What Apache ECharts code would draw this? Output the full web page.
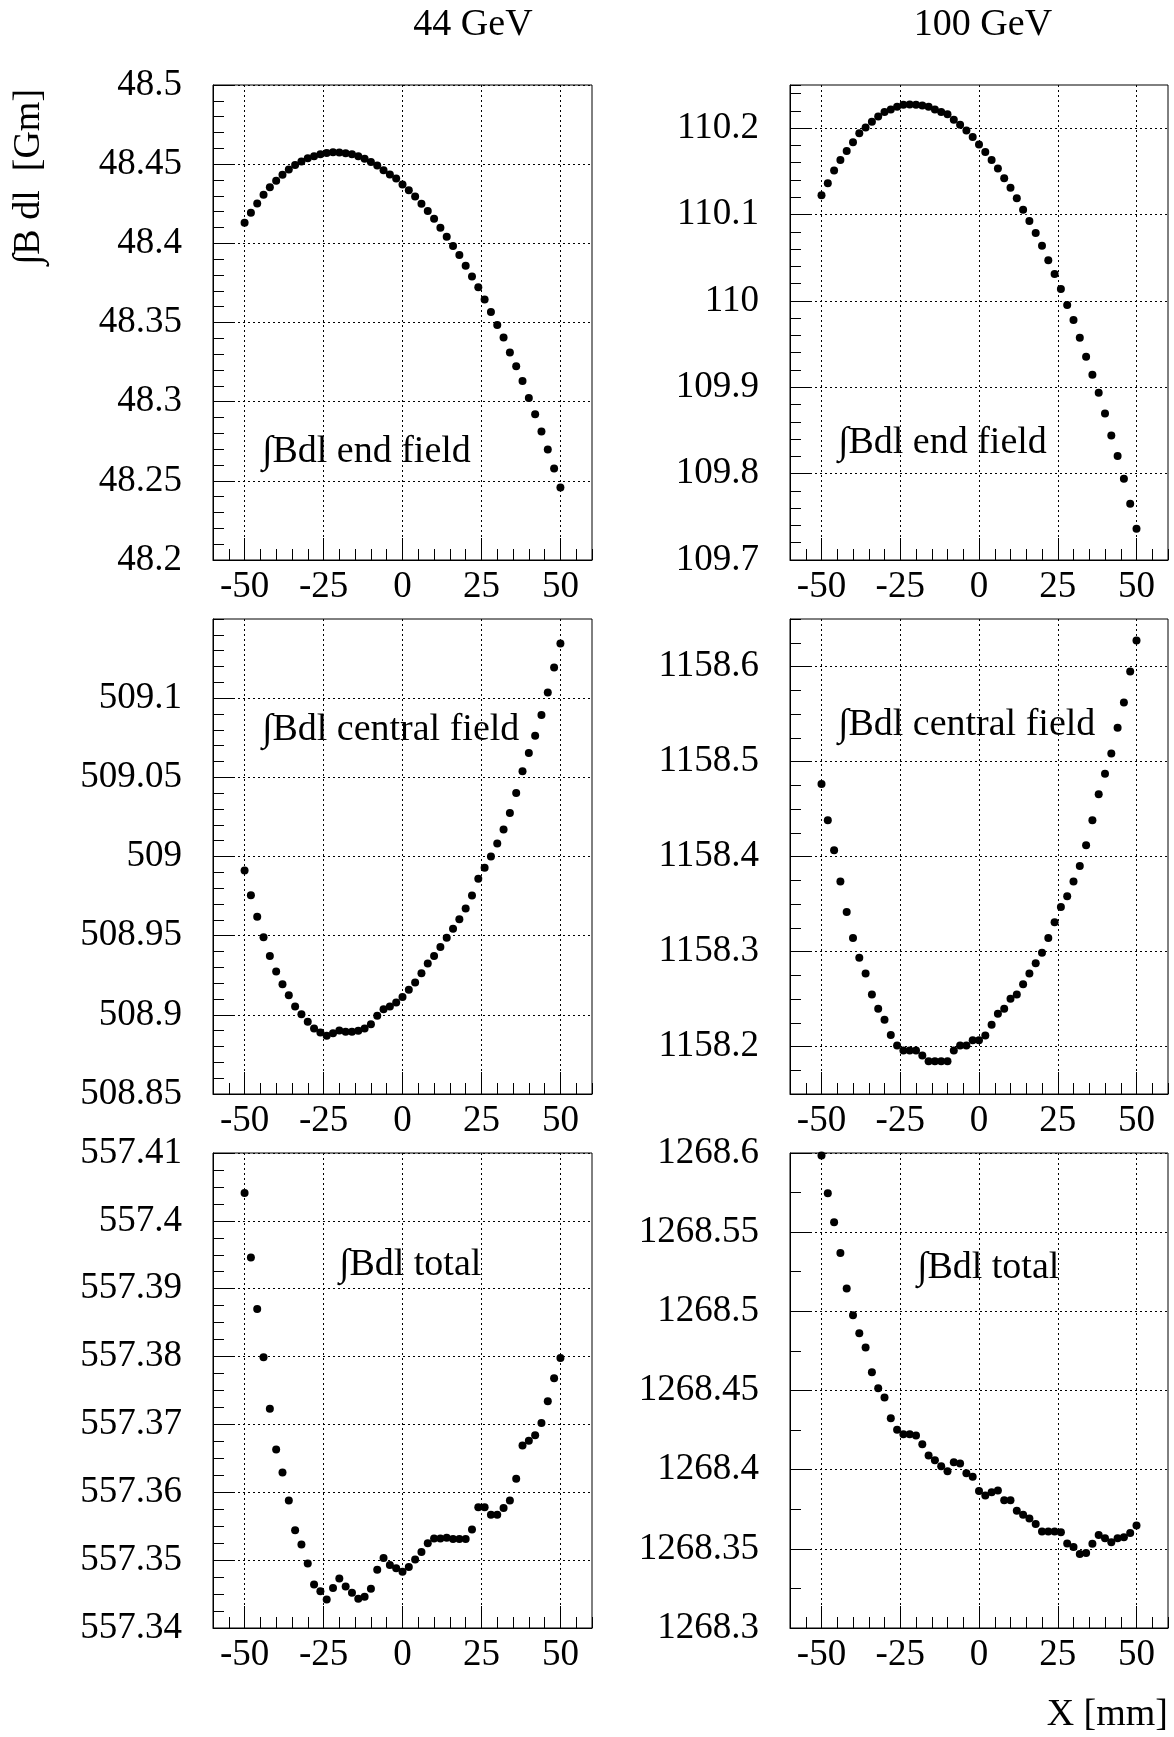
<!DOCTYPE html>
<html>
<head>
<meta charset="utf-8">
<script src="https://cdn.jsdelivr.net/npm/echarts@6/dist/echarts.min.js"></script>
<style>
html, body {margin:0; padding:0; background:#fff;}
#main {width:1174px; height:1737px;}
</style>
</head>
<body>
<div id="main"></div>
<script>
// x positions of the scan (mm)
const xPos = [-50,-48,-46,-44,-42,-40,-38,-36,-34,-32,-30,-28,-26,-24,-22,-20,-18,-16,-14,-12,-10,-8,-6,-4,-2,
    0,2,4,6,8,10,12,14,16,18,20,22,24,26,28,30,32,34,36,38,40,42,44,46,48,50];

const end44 = [48.4130,48.4193,48.4252,48.4307,48.4355,48.4395,48.4433,48.4466,48.4494,48.4517,
    48.4538,48.4550,48.4563,48.4571,48.4576,48.4574,48.4569,48.4563,48.4550,48.4534,
    48.4513,48.4492,48.4462,48.4435,48.4410,48.4372,48.4336,48.4296,48.4250,48.4204,
    48.4155,48.4099,48.4042,48.3983,48.3926,48.3859,48.3790,48.3723,48.3645,48.3567,
    48.3485,48.3405,48.3311,48.3223,48.3130,48.3023,48.2920,48.2811,48.2698,48.2578,48.2458];

const end100 = [110.1222,110.1362,110.1509,110.1632,110.1737,110.1838,110.1942,110.2008,110.2074,110.2135,
    110.2186,110.2217,110.2248,110.2271,110.2275,110.2271,110.2263,110.2248,110.2217,110.2186,
    110.2162,110.2097,110.2039,110.1973,110.1899,110.1810,110.1725,110.1632,110.1532,110.1420,
    110.1311,110.1188,110.1056,110.0925,110.0785,110.0638,110.0472,110.0313,110.0139,109.9954,
    109.9780,109.9574,109.9354,109.9145,109.8936,109.8696,109.8441,109.8205,109.7942,109.7652,109.7362];

const central44 = [508.9912,508.9756,508.9620,508.9490,508.9372,508.9273,508.9193,508.9124,508.9053,508.9004,
    508.8956,508.8914,508.8889,508.8868,508.8884,508.8901,508.8893,508.8893,508.8899,508.8914,
    508.8941,508.8994,508.9036,508.9053,508.9078,508.9113,508.9158,508.9204,508.9263,508.9324,
    508.9372,508.9429,508.9487,508.9544,508.9603,508.9672,508.9754,508.9859,508.9929,509.0000,
    509.0082,509.0170,509.0275,509.0401,509.0538,509.0653,509.0763,509.0893,509.1036,509.1193,509.1345];

const central100 = [1158.4763,1158.4381,1158.4065,1158.3736,1158.3417,1158.3143,1158.2933,1158.2768,1158.2547,1158.2397,
    1158.2281,1158.2120,1158.2011,1158.1959,1158.1959,1158.1959,1158.1906,1158.1846,1158.1846,1158.1846,
    1158.1846,1158.1959,1158.2011,1158.2011,1158.2067,1158.2067,1158.2116,1158.2228,1158.2344,1158.2397,
    1158.2502,1158.2547,1158.2656,1158.2768,1158.2877,1158.2986,1158.3143,1158.3308,1158.3469,1158.3581,
    1158.3736,1158.3900,1158.4118,1158.4381,1158.4654,1158.4871,1158.5085,1158.5355,1158.5621,1158.5947,1158.6273];

const total44 = [557.4041,557.3946,557.3870,557.3799,557.3723,557.3663,557.3629,557.3588,557.3544,557.3523,
    557.3495,557.3464,557.3454,557.3442,557.3459,557.3473,557.3461,557.3452,557.3443,557.3446,
    557.3458,557.3486,557.3503,557.3493,557.3488,557.3483,557.3490,557.3501,557.3512,557.3525,
    557.3532,557.3532,557.3533,557.3531,557.3531,557.3531,557.3545,557.3578,557.3578,557.3567,
    557.3567,557.3577,557.3588,557.3620,557.3669,557.3676,557.3684,557.3702,557.3734,557.3768,557.3798];

const total100 = [1268.5984,1268.5746,1268.5563,1268.5369,1268.5144,1268.4976,1268.4862,1268.4772,1268.4616,1268.4515,
    1268.4456,1268.4325,1268.4252,1268.4224,1268.4224,1268.4216,1268.4161,1268.4089,1268.4060,1268.4022,
    1268.3990,1268.4047,1268.4039,1268.3978,1268.3955,1268.3866,1268.3837,1268.3858,1268.3868,1268.3807,
    1268.3807,1268.3740,1268.3716,1268.3691,1268.3657,1268.3610,1268.3610,1268.3610,1268.3605,1268.3533,
    1268.3512,1268.3468,1268.3473,1268.3532,1268.3588,1268.3567,1268.3542,1268.3567,1268.3573,1268.3600,1268.3647];

// tick labels
const xTicks = [-50, -25, 0, 25, 50];
const yTicksEnd44 = [48.2, 48.25, 48.3, 48.35, 48.4, 48.45, 48.5];
const yTicksEnd100 = [109.7, 109.8, 109.9, 110, 110.1, 110.2];
const yTicksCentral44 = [508.85, 508.9, 508.95, 509, 509.05, 509.1];
const yTicksCentral100 = [1158.2, 1158.3, 1158.4, 1158.5, 1158.6];
const yTicksTotal44 = [557.34, 557.35, 557.36, 557.37, 557.38, 557.39, 557.4, 557.41];
const yTicksTotal100 = [1268.3, 1268.35, 1268.4, 1268.45, 1268.5, 1268.55, 1268.6];

const FONT = 'Liberation Serif';
const colLeft = [213, 790];
const colWidth = [379, 378];
const rowTop = [85, 619, 1153];
const rowHeight = 475;

// y ranges and minor tick step for each panel
const panels = [
    {ys: end44, min: 48.2, max: 48.5, minor: 0.01, ticks: yTicksEnd44, col: 0, row: 0},
    {ys: end100, min: 109.7, max: 110.25, minor: 0.02, ticks: yTicksEnd100, col: 1, row: 0},
    {ys: central44, min: 508.85, max: 509.15, minor: 0.01, ticks: yTicksCentral44, col: 0, row: 1},
    {ys: central100, min: 1158.15, max: 1158.65, minor: 0.025, ticks: yTicksCentral100, col: 1, row: 1},
    {ys: total44, min: 557.34, max: 557.41, minor: 0.0025, ticks: yTicksTotal44, col: 0, row: 2},
    {ys: total100, min: 1268.3, max: 1268.6, minor: 0.025, ticks: yTicksTotal100, col: 1, row: 2}
];

function fmt(v){
    return String(Math.round(v * 10000) / 10000);
}

let grids = [], xAxes = [], yAxes = [], series = [];
panels.forEach(function(p, g){
    grids.push({
        left: colLeft[p.col], top: rowTop[p.row], width: colWidth[p.col], height: rowHeight,
        show: true, borderColor: '#000', borderWidth: 1, backgroundColor: 'transparent'
    });
    // minor ticks
    xAxes.push({
        type: 'value', gridIndex: g, position: 'bottom', min: -60, max: 60, interval: 5,
        axisLine: {show: true, onZero: false, lineStyle: {color: '#000', width: 1}},
        axisTick: {show: true, inside: true, length: 11, lineStyle: {color: '#000'}},
        axisLabel: {show: false}, splitLine: {show: false}
    });
    // major ticks, labels, grid
    xAxes.push({
        type: 'value', gridIndex: g, position: 'bottom', min: -60, max: 60, interval: 5,
        axisLine: {show: false, onZero: false},
        axisTick: {show: true, inside: true, length: 22, customValues: xTicks, lineStyle: {color: '#000'}},
        axisLabel: {show: true, customValues: xTicks, formatter: fmt, margin: 9,
            fontFamily: FONT, fontSize: 37, color: '#000'},
        splitLine: {show: true, lineStyle: {color: '#000', width: 1, type: [2, 3]}}
    });
    yAxes.push({
        type: 'value', gridIndex: g, position: 'left', min: p.min, max: p.max, interval: p.minor,
        axisLine: {show: true, onZero: false, lineStyle: {color: '#000', width: 1}},
        axisTick: {show: true, inside: true, length: 11, lineStyle: {color: '#000'}},
        axisLabel: {show: false}, splitLine: {show: false}
    });
    yAxes.push({
        type: 'value', gridIndex: g, position: 'left', min: p.min, max: p.max, interval: p.minor,
        axisLine: {show: false, onZero: false},
        axisTick: {show: true, inside: true, length: 22, customValues: p.ticks, lineStyle: {color: '#000'}},
        axisLabel: {show: true, customValues: p.ticks, formatter: fmt, margin: 31,
            fontFamily: FONT, fontSize: 37, color: '#000'},
        splitLine: {show: true, lineStyle: {color: '#000', width: 1, type: [2, 3]}}
    });
    series.push({
        type: 'scatter', xAxisIndex: 2 * g, yAxisIndex: 2 * g,
        symbol: 'circle', symbolSize: 8,
        itemStyle: {color: '#000', opacity: 1},
        data: xPos.map(function(x, i){ return [x, p.ys[i]]; })
    });
});

function txt(text, x, y, align, size, rot){
    return {
        type: 'text', x: x, y: y, rotation: rot || 0, z: 100,
        style: {
            text: text, fill: '#000', font: size + 'px "' + FONT + '"',
            align: align, textAlign: align, verticalAlign: 'middle', textVerticalAlign: 'middle'
        }
    };
}

let graphics = [
    txt('44 GeV', 473, 25, 'center', 38),
    txt('100 GeV', 983, 25, 'center', 38),
    txt('\u222BB dl  [Gm]', 29, 177, 'center', 38, Math.PI / 2),
    txt('X [mm]', 1168, 1715, 'right', 38),
    txt('\u222BBdl end field', 262, 452, 'left', 38),
    txt('\u222BBdl end field', 838, 443, 'left', 38),
    txt('\u222BBdl central field', 262, 730, 'left', 38),
    txt('\u222BBdl central field', 838, 725, 'left', 38),
    txt('\u222BBdl total', 339, 1265, 'left', 38),
    txt('\u222BBdl total', 917, 1268, 'left', 38)
];

let chart = echarts.init(document.getElementById('main'), null, {renderer: 'canvas'});
chart.setOption({
    backgroundColor: '#fff',
    animation: false,
    grid: grids,
    xAxis: xAxes,
    yAxis: yAxes,
    series: series,
    graphic: graphics
});
</script>
</body>
</html>
